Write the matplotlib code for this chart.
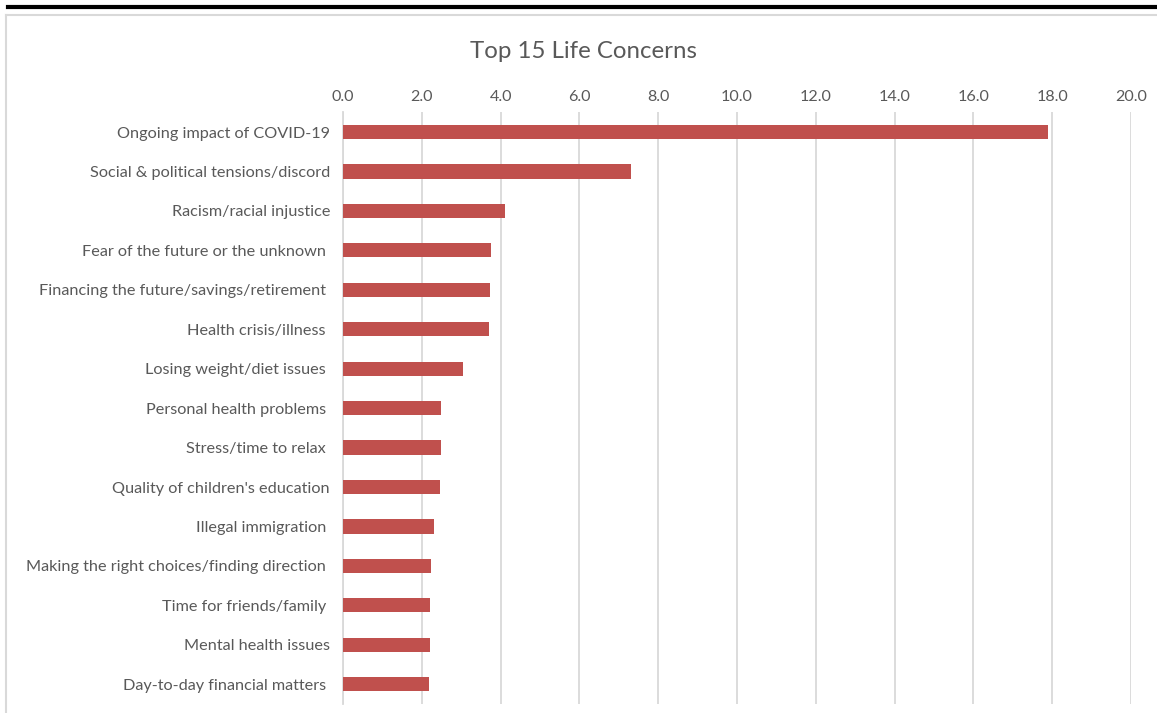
import matplotlib
matplotlib.use("Agg")
import matplotlib.pyplot as plt
from matplotlib.lines import Line2D

plt.rcParams['font.family'] = ['Lato', 'DejaVu Sans']

title = "Top 15 Life Concerns"
categories = [
    "Ongoing impact of COVID-19",
    "Social & political tensions/discord",
    "Racism/racial injustice",
    "Fear of the future or the unknown ",
    "Financing the future/savings/retirement ",
    "Health crisis/illness ",
    "Losing weight/diet issues ",
    "Personal health problems ",
    "Stress/time to relax ",
    "Quality of children's education",
    "Illegal immigration ",
    "Making the right choices/finding direction ",
    "Time for friends/family ",
    "Mental health issues",
    "Day-to-day financial matters ",
]
values = [17.9, 7.3, 4.1, 3.75, 3.72, 3.7, 3.05, 2.49, 2.49, 2.46, 2.31, 2.23, 2.21, 2.21, 2.18]
xticks = [0, 2, 4, 6, 8, 10, 12, 14, 16, 18, 20]

W, H = 1157, 713
fig = plt.figure(figsize=(W / 100, H / 100), dpi=100)
fig.patch.set_facecolor('white')

ax = fig.add_axes([343 / W, 1 - 704 / H, (1131 - 343) / W, (704 - 112.3) / H])
ypos = list(range(len(categories)))
ax.barh(ypos, values, height=0.36, color='#C0504D', zorder=3)
ax.set_ylim(len(categories) - 0.5, -0.5)
ax.set_xlim(0, 20)
ax.set_yticks(ypos)
ax.set_yticklabels(categories)
ax.set_xticks(xticks)
ax.set_xticklabels([f"{v:.1f}" for v in xticks])
ax.xaxis.tick_top()
ax.tick_params(axis='x', length=0, pad=6.3, labelsize=11.6, labelcolor='#595959')
ax.tick_params(axis='y', length=0, pad=9.3, labelsize=11.7, labelcolor='#595959')
ax.grid(axis='x', color='#D9D9D9', linewidth=1.3, zorder=0)
for s in ['top', 'right', 'bottom']:
    ax.spines[s].set_visible(False)
ax.spines['left'].set_color('#D9D9D9')
ax.spines['left'].set_linewidth(1.3)

fig.text(584 / W, 1 - 52 / H, title, ha='center', va='center', fontsize=17.3, color='#595959')

# document frame artifacts
fig.add_artist(Line2D([8 / W, 1], [1 - 7 / H, 1 - 7 / H], color='black', linewidth=3))
fig.add_artist(Line2D([6 / W, 1], [1 - 15 / H, 1 - 15 / H], color='#D9D9D9', linewidth=1.5))
fig.add_artist(Line2D([6 / W, 6 / W], [1 - 15 / H, 0], color='#D9D9D9', linewidth=1.5))

fig.savefig('out.png', dpi=100)
